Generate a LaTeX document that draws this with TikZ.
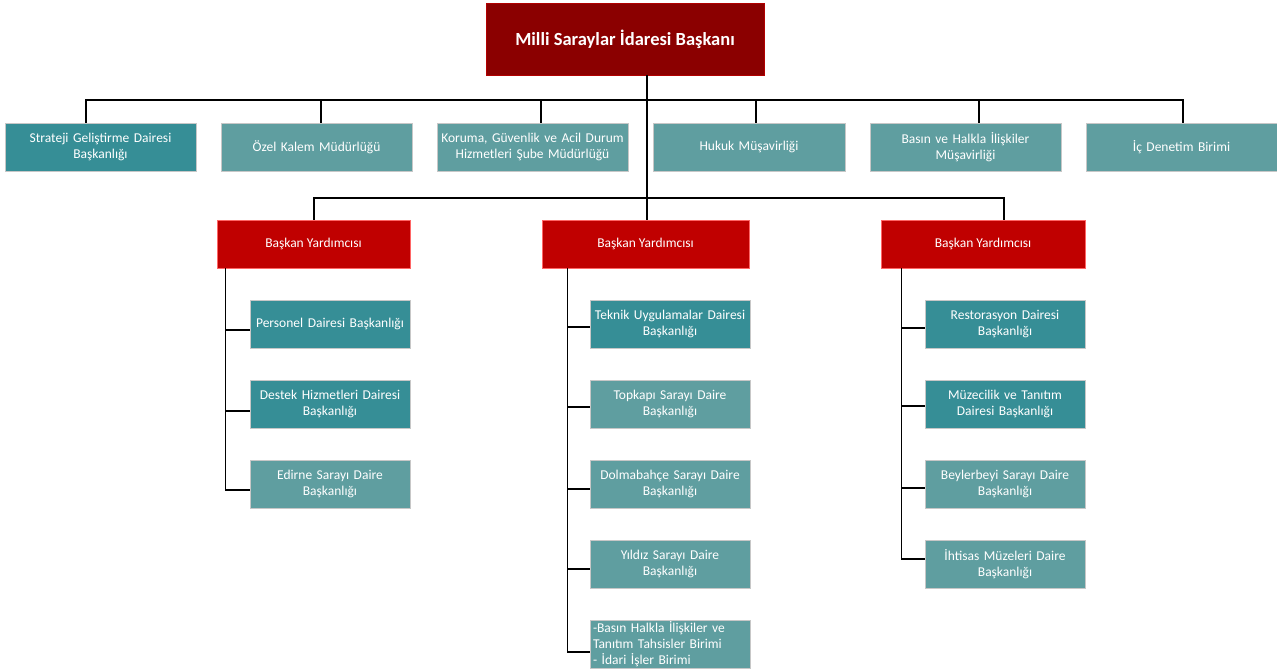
\documentclass[tikz,border=0pt]{standalone}
\usepackage{fontspec}
\setmainfont{Carlito}
\definecolor{dkteal}{RGB}{54,142,150}
\definecolor{ltteal}{RGB}{95,158,160}
\definecolor{topred}{RGB}{139,0,0}
\definecolor{vpred}{RGB}{192,0,0}
\begin{document}
\begin{tikzpicture}[x=1pt,y=-1pt,
  box/.style={rectangle, inner sep=2pt, text=white, align=center, font=\fontsize{13.5}{16.5}\selectfont, draw=black!22, line width=0.8pt, minimum height=48pt},
  dk/.style={box, fill=dkteal},
  lt/.style={box, fill=ltteal},
  vp/.style={box, fill=vpred, draw=red!60!white},
  conn/.style={draw=black, line width=1.2pt}
]
\useasboundingbox (0,0) rectangle (1277,670);
% top
\node[box, fill=topred, draw=red!70!black, minimum width=278pt, minimum height=72pt, font=\fontsize{18.5}{22}\selectfont\bfseries] (top) at (625,39) {Milli Saraylar İdaresi Başkanı};
% row 1
\node[dk, minimum width=191pt, text width=187pt] (s1) at (100.5,147) {Strateji Geliştirme Dairesi\\Başkanlığı};
\node[lt, minimum width=191pt, text width=187pt] (s2) at (316.5,147) {Özel Kalem Müdürlüğü};
\node[lt, minimum width=191pt, text width=187pt] (s3) at (532.5,147) {Koruma, Güvenlik ve Acil Durum\\Hizmetleri Şube Müdürlüğü};
\node[lt, minimum width=192pt, text width=188pt] (s4) at (749,147) {Hukuk Müşavirliği};
\node[lt, minimum width=191pt, text width=187pt] (s5) at (965.5,147) {Basın ve Halkla İlişkiler\\Müşavirliği};
\node[lt, minimum width=191pt, text width=187pt] (s6) at (1181.5,147) {İç Denetim Birimi};
% VPs
\node[vp, minimum width=193pt] (v1) at (313.5,244) {Başkan Yardımcısı};
\node[vp, minimum width=207pt] (v2) at (645.5,244) {Başkan Yardımcısı};
\node[vp, minimum width=204pt] (v3) at (983,244) {Başkan Yardımcısı};
% VP1 children
\node[dk, minimum width=160pt, text width=156pt] (a1) at (330,324) {Personel Dairesi Başkanlığı};
\node[dk, minimum width=160pt, text width=156pt] (a2) at (330,404) {Destek Hizmetleri Dairesi\\Başkanlığı};
\node[lt, minimum width=160pt, text width=156pt] (a3) at (330,484) {Edirne Sarayı Daire\\Başkanlığı};
% VP2 children
\node[dk, minimum width=160pt, text width=156pt] (b1) at (670,324) {Teknik Uygulamalar Dairesi\\Başkanlığı};
\node[lt, minimum width=160pt, text width=156pt] (b2) at (670,404) {Topkapı Sarayı Daire\\Başkanlığı};
\node[lt, minimum width=160pt, text width=156pt] (b3) at (670,484) {Dolmabahçe Sarayı Daire\\Başkanlığı};
\node[lt, minimum width=160pt, text width=156pt] (b4) at (670,564) {Yıldız Sarayı Daire\\Başkanlığı};
\node[lt, minimum width=160pt, text width=154pt, align=left, inner sep=0pt, font=\fontsize{13.5}{16}\selectfont] (b5) at (670,644) {-Basın Halkla İlişkiler ve\\Tanıtım Tahsisler Birimi\\- İdari İşler Birimi};
% VP3 children
\node[dk, minimum width=160pt, text width=156pt] (c1) at (1005,324) {Restorasyon Dairesi\\Başkanlığı};
\node[dk, minimum width=160pt, text width=156pt] (c2) at (1005,404) {Müzecilik ve Tanıtım\\Dairesi Başkanlığı};
\node[lt, minimum width=160pt, text width=156pt] (c3) at (1005,484) {Beylerbeyi Sarayı Daire\\Başkanlığı};
\node[lt, minimum width=160pt, text width=156pt] (c4) at (1005,564) {İhtisas Müzeleri Daire\\Başkanlığı};
% connectors row 1
\coordinate (bus1) at (647,100);
\path[conn] ([xshift=-14.5pt]s1.north) |- (bus1) -| ([xshift=1.5pt]s6.north);
\path[conn] ([xshift=4.5pt]s2.north) -- ([xshift=4.5pt]s2.north |- bus1);
\path[conn] ([xshift=8.5pt]s3.north) -- ([xshift=8.5pt]s3.north |- bus1);
\path[conn] ([xshift=7pt]s4.north) -- ([xshift=7pt]s4.north |- bus1);
\path[conn] ([xshift=13.5pt]s5.north) -- ([xshift=13.5pt]s5.north |- bus1);
% main trunk
\path[conn] ([xshift=22pt]top.south) -- ([xshift=1.5pt]v2.north);
\coordinate (bus2) at (647,198);
\path[conn] ([xshift=0.5pt]v1.north) |- (bus2) -| ([xshift=21pt]v3.north);
% VP1 children
\path[conn] ([xshift=9pt]v1.south west) |- ([yshift=-6pt]a1.west);
\path[conn] ([xshift=9pt]v1.south west) |- ([yshift=-7pt]a2.west);
\path[conn] ([xshift=9pt]v1.south west) |- ([yshift=-6pt]a3.west);
% VP2 children
\path[conn] ([xshift=26pt]v2.south west) |- ([yshift=-3pt]b1.west);
\path[conn] ([xshift=26pt]v2.south west) |- ([yshift=-3pt]b2.west);
\path[conn] ([xshift=26pt]v2.south west) |- ([yshift=-5pt]b3.west);
\path[conn] ([xshift=26pt]v2.south west) |- ([yshift=-5pt]b4.west);
\path[conn] ([xshift=26pt]v2.south west) |- ([yshift=-8pt]b5.west);
% VP3 children
\path[conn] ([xshift=21pt]v3.south west) |- ([yshift=-4pt]c1.west);
\path[conn] ([xshift=21pt]v3.south west) |- ([yshift=-2pt]c2.west);
\path[conn] ([xshift=21pt]v3.south west) |- ([yshift=-4pt]c3.west);
\path[conn] ([xshift=21pt]v3.south west) |- ([yshift=5pt]c4.west);
\end{tikzpicture}
\end{document}
